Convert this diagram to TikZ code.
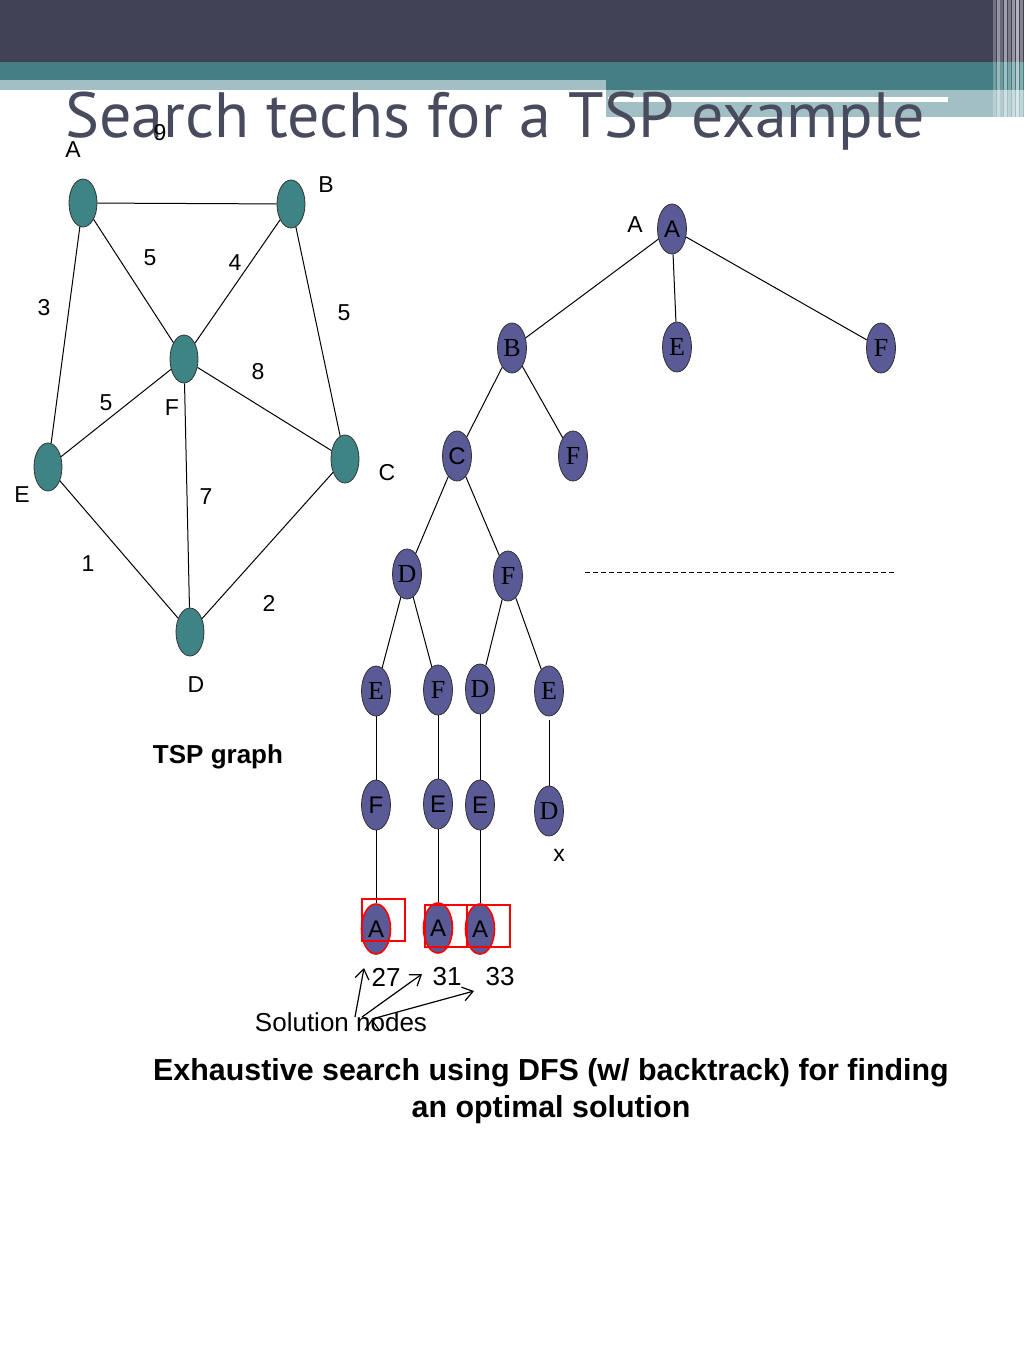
\documentclass[tikz,border=0pt]{standalone}
\usepackage{fontspec}
\setmainfont{Liberation Sans}
\newfontfamily\tms{Liberation Serif}
\newfontfamily\ttl{PT Sans}
\usetikzlibrary{shapes.geometric,arrows.meta}

\definecolor{hdark}{RGB}{66,66,86}
\definecolor{hteal}{RGB}{70,127,131}
\definecolor{hlight}{RGB}{162,192,196}
\definecolor{ttlc}{RGB}{72,74,94}
\definecolor{gteal}{RGB}{62,132,133}
\definecolor{tblue}{RGB}{90,90,150}

\begin{document}
\begin{tikzpicture}[
        x=0.5pt, y=-0.5pt,
        g/.style={draw=black!80,ellipse,fill=gteal,minimum width=14pt,minimum height=24pt,inner sep=0pt},
        t/.style={draw=black!80,ellipse,fill=tblue,minimum width=14.5pt,minimum height=25pt,inner sep=0pt,font=\tms\fontsize{13}{13}\selectfont},
        ta/.style={t,font=\fontsize{12}{12}\selectfont},
        sl/.style={ta,draw=red,thick},
        l/.style={font=\fontsize{11.5}{13}\selectfont},
        w/.style={font=\fontsize{13}{15}\selectfont},
        ysh/.style={yshift=-5pt}
    ]

    \tikzset{
        node distance=57pt,
    }

    % page and header
    \useasboundingbox (0,0) rectangle (1024,1365);
    \fill[white] (0,0) rectangle (1024,1365);
    \fill[hdark] (0,0) rectangle (1024,62);
    \fill[hteal] (0,62) rectangle (1024,80);
    \fill[hlight] (0,80) rectangle (606,90);
    \fill[hteal] (606,80) rectangle (1024,90);
    \fill[hlight] (606,90) rectangle (1024,117);
    \fill[white] (608,97) rectangle (948,102);
    \foreach \x/\o in {993/0.25,997/0.45,1000/0.2,1004/0.5,1008/0.3,1012/0.45,1016/0.6,1020/0.35}
        \fill[white,opacity=\o] (\x,0) rectangle ++(3,120);

    \node[anchor=base west,text=ttlc,inner sep=0pt,font=\ttl\fontsize{32}{32}\selectfont] (title) at (65,137) {Search techs for a TSP example};

    % TSP graph
    \node[g] (A) at (83,203) {};
    \node[g] (B) at (291,204) {};
    \node[g] (F) at (184,359) {};
    \node[g] (E) at (48,467) {};
    \node[g] (C) at (345,459) {};
    \node[g] (D) at (190,632) {};

    \draw[line width=0.5pt]
        (A) edge (B)
        (A) edge (F)
        (A) edge (E)
        (B) edge (F)
        (B) edge (C)
        (F) edge (E)
        (F) edge (C)
        (F) edge (D)
        (E) edge (D)
        (C) edge (D)
        ;

    \node[l] (lA) at (73,150) {A};
    \node[l] (lB) at (326,185) {B};
    \node[l] (lF) at (172,408) {F};
    \node[l] (lE) at (22,495) {E};
    \node[l] (lC) at (387,473) {C};
    \node[l] (lD) at (196,685) {D};

    \node[l] (wAB) at (160,133) {9};
    \node[l] (wAF) at (150,258) {5};
    \node[l] (wBF) at (235,263) {4};
    \node[l] (wAE) at (44,308) {3};
    \node[l] (wBC) at (344,313) {5};
    \node[l] (wFC) at (258,372) {8};
    \node[l] (wFE) at (106,403) {5};
    \node[l] (wFD) at (206,497) {7};
    \node[l] (wED) at (88,564) {1};
    \node[l] (wCD) at (269,603) {2};

    \node[font=\bfseries\fontsize{13}{15}\selectfont] (tspg) at (218,757) {TSP graph};

    % search tree
    \node[ta] (rA) at (672,229) {A};
    \node[l] (lrA) at (635,225) {A};
    \node[t] (tB) at (512,348) {B};
    \node[t] (tE) at (677,347) {E};
    \node[t] (tF) at (881,348) {F};
    \node[ta] (tBC) at (457,456) {C};
    \node[t] (tBF) at (573,456) {F};
    \node[t] (tCD) at (407,574) {D};
    \node[t] (tCF) at (508,576) {F};
    \node[t] (tDE) at (376,691) {E};
    \node[t] (tDF) at (438,690) {F};
    \node[t] (tFD) at (480,689) {D};
    \node[t] (tFE) at (549,691) {E};
    \node[ta,below of=tDE] (tDEF) {F};
    \node[ta,below of=tDF] (tDFE) {E};
    \node[ta,below of=tFD,yshift=-1pt] (tFDE) {E};
    \node[t,below of=tFE,yshift=-3pt] (tFED) {D};
    \node[l] (xx) at (559,855) {x};
    \node[sl,below of=tDEF,ysh] (s1) {A};
    \node[sl,below of=tDFE,ysh] (s2) {A};
    \node[sl,below of=tFDE,ysh] (s3) {A};

    \draw[line width=0.5pt]
        (rA) edge (tB)
        (rA) edge (tE)
        (rA) edge (tF)
        (tB) edge (tBC)
        (tB) edge (tBF)
        (tBC) edge (tCD)
        (tBC) edge (tCF)
        (tCD) edge (tDE)
        (tCD) edge (tDF)
        (tCF) edge (tFD)
        (tCF) edge (tFE)
        (tDE) edge (tDEF)
        (tDF) edge (tDFE)
        (tFD) edge (tFDE)
        (tFE) edge[shorten <=2pt] (tFED)
        (tDEF) edge (s1)
        (tDFE) edge (s2)
        (tFDE) edge (s3)
        ;

    \draw[red,line width=0.6pt] (362,899) rectangle (405,941);
    \draw[red,line width=0.6pt] (425,905) rectangle (467,947);
    \draw[red,line width=0.6pt] (467,905) rectangle (510,947);

    \draw[dashed,dash pattern=on 2.5pt off 1.5pt,line width=0.4pt] (585,572) -- (896,572);

    % solutions
    \node[w] (c1) at (386,977) {27};
    \node[w] (c2) at (447,977) {31};
    \node[w] (c3) at (500,977) {33};
    \node[w] (sol) at (341,1022) {Solution nodes};
    \coordinate (a1) at (355,1017);
    \coordinate (a2) at (362,1017);
    \coordinate (a3) at (372,1019);
    \coordinate (b1) at (364,968);
    \coordinate (b2) at (422,974);
    \coordinate (b3) at (474,991);
    \draw[-{Straight Barb[length=5pt,width=7pt]},line width=0.6pt]
        (a1) edge (b1)
        (a2) edge (b2)
        (a3) edge (b3)
        ;

    \node[align=center,font=\bfseries\fontsize{15.2}{18.5}\selectfont] (cap) at (551,1091) {Exhaustive search using DFS (w/ backtrack) for finding\\an optimal solution};

\end{tikzpicture}
\end{document}
